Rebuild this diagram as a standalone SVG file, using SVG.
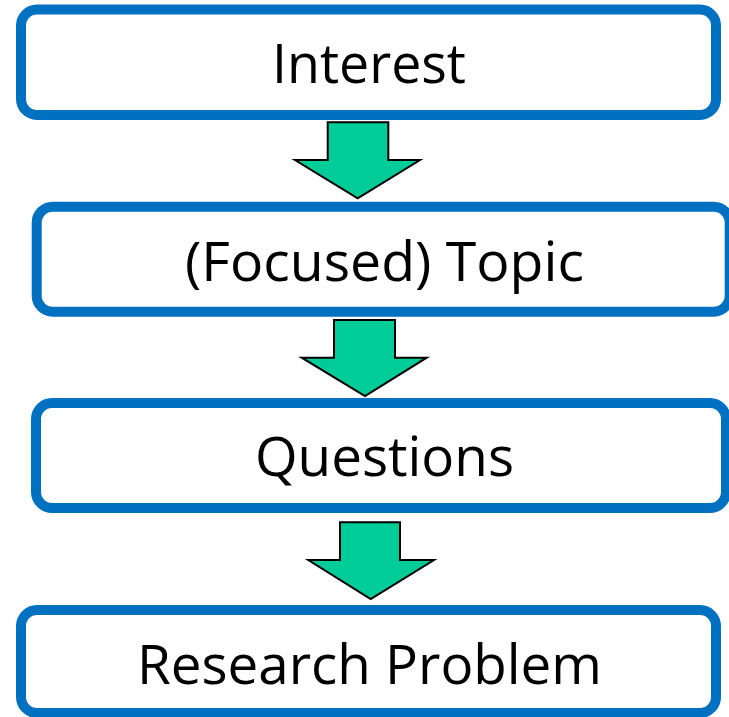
<svg xmlns="http://www.w3.org/2000/svg" width="729" height="717" viewBox="0 0 729 717">
<style>
.box{fill:#ffffff;stroke:#0070C0;stroke-width:10}
.lbl{font-family:"Open Sans","Liberation Sans",sans-serif;font-size:55px;fill:#000000}
.arr{fill:#00CC99;stroke:#000000;stroke-width:2;stroke-linejoin:miter}
</style>
<rect width="729" height="717" fill="#ffffff"/>
<g id="n1"><rect class="box" x="21" y="9.5" width="695" height="105.5" rx="16"/><text class="lbl" x="272" y="83" textLength="194" lengthAdjust="spacingAndGlyphs">Interest</text></g>
<g id="n2"><rect class="box" x="36.7" y="206.7" width="693" height="105" rx="16"/><text class="lbl" x="185" y="281" textLength="399" lengthAdjust="spacingAndGlyphs">(Focused) Topic</text></g>
<g id="n3"><rect class="box" x="36" y="403" width="690" height="105" rx="16"/><text class="lbl" x="255" y="476" textLength="259" lengthAdjust="spacingAndGlyphs">Questions</text></g>
<g id="n4"><rect class="box" x="21" y="610" width="695" height="103" rx="16"/><text class="lbl" x="137" y="684" textLength="465" lengthAdjust="spacingAndGlyphs">Research Problem</text></g>
<g id="connectors">
<polygon class="arr" points="327.7,122.3 388.3,122.3 388.3,160 420,160 357.7,198.3 295,160 327.7,160"/>
<polygon class="arr" points="334,320 395,320 395,357.7 426.7,357.7 365,396 301.7,357.7 334,357.7"/>
<polygon class="arr" points="340,522.3 400,522.3 400,560 434,560 370.7,599 308.3,560 340,560"/>
</g>
</svg>
